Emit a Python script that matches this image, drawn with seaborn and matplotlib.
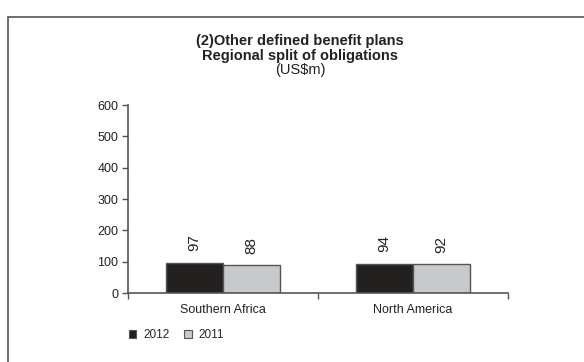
import matplotlib
matplotlib.use("Agg")
import matplotlib.pyplot as plt
import seaborn as sns
import pandas as pd
from matplotlib.patches import Rectangle, Patch

regions = ["Southern Africa", "North America"]
years = ["2012", "2011"]
values_2012 = [97, 94]
values_2011 = [88, 92]
yticks = [0, 100, 200, 300, 400, 500, 600]

sns.set_theme(style="white")
plt.rcParams['font.family'] = ['Liberation Sans', 'DejaVu Sans']

df = pd.DataFrame({
    "region": regions * 2,
    "year": [years[0]] * 2 + [years[1]] * 2,
    "value": values_2012 + values_2011,
})

fig = plt.figure(figsize=(5.84, 3.62), dpi=100)
ax = fig.add_axes([128/584, 1-293/362, 380/584, (293-105)/362])

palette = {"2012": "#231f20", "2011": "#c8c9ca"}
sns.barplot(data=df, x="region", y="value", hue="year", hue_order=years,
            order=regions, palette=palette, width=0.6, gap=0,
            edgecolor="#555555", linewidth=1.0, ax=ax, legend=False, errorbar=None)

for cont in ax.containers:
    ax.bar_label(cont, padding=8, rotation=90, fontsize=11, color="#222222")

ax.set_xlim(-0.5, 1.5)
ax.set_ylim(0, 600)
ax.set_yticks(yticks)
ax.set_xlabel("")
ax.set_ylabel("")
ax.set_xticks([-0.5, 0.5, 1.5], minor=True)
ax.tick_params(axis="x", which="major", length=0, pad=8, labelsize=9, labelcolor="#222222")
ax.tick_params(axis="x", which="minor", length=4, width=1, color="#555555", direction="out", bottom=True)
ax.tick_params(axis="y", length=4, width=1, color="#555555", direction="out", left=True, labelsize=9, labelcolor="#222222", pad=3)
for s in ["top", "right"]:
    ax.spines[s].set_visible(False)
for s in ["left", "bottom"]:
    ax.spines[s].set_color("#555555")
    ax.spines[s].set_linewidth(1.2)

fig.text(300/584, 1-41/362, "(2)Other defined benefit plans", ha="center", va="center",
         fontsize=10.5, fontweight="bold", color="#222222")
fig.text(300/584, 1-56/362, "Regional split of obligations", ha="center", va="center",
         fontsize=10.5, fontweight="bold", color="#222222")
fig.text(300/584, 1-70/362, "(US$m)", ha="center", va="center", fontsize=10.5, color="#222222")

handles = [Patch(facecolor=palette[y], edgecolor="#555555", linewidth=0.8) for y in years]
fig.legend(handles, years, loc="center left", bbox_to_anchor=(124/584, 1-335/362), ncol=2,
           frameon=False, fontsize=8.5, handlelength=0.65, handleheight=0.65,
           handletextpad=0.6, columnspacing=1.2, borderaxespad=0)

fig.patches.append(Rectangle((8/584, -0.1), 1.2, 0.1 + (1-17/362), transform=fig.transFigure,
                             fill=False, edgecolor="#555555", linewidth=1.2, zorder=10))

fig.savefig("out.png", dpi=100)
